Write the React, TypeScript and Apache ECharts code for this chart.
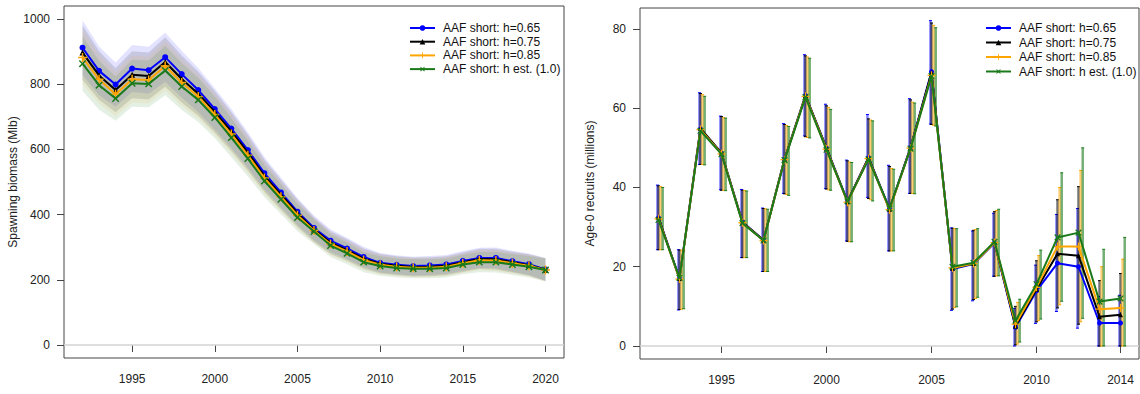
import React, { useEffect, useRef } from "react";
import * as echarts from "echarts";

// ---------- Left panel: spawning biomass (Mlb) ----------
const sbYears = [1992,1993,1994,1995,1996,1997,1998,1999,2000,2001,2002,2003,2004,2005,2006,2007,2008,2009,2010,2011,2012,2013,2014,2015,2016,2017,2018,2019,2020];
const sbH065 = [912,841,799,848,843,883,831,782,724,664,598,527,468,409,359,320,296,270,252,246,242,244,247,258,267,267,257,248,232];
const sbH075 = [897,827,782,829,825,868,816,771,715,655,590,519,461,404,354,314,291,265,249,243,239,240,243,254,264,263,254,245,231];
const sbH085 = [882,815,769,815,813,856,805,762,707,647,582,512,455,398,351,310,287,261,246,240,237,237,240,251,260,259,251,243,230];
const sbHest = [863,797,756,803,801,842,793,752,698,636,572,503,447,391,348,305,281,254,242,236,234,234,236,247,254,254,247,240,230];
// half-width of the shaded interval (Mlb)
const sbHalfWidth = [84,75,68,72,72,76,72,68,64,60,55,50,46,42,38,35,33,31,30,29,29,29,29,30,31,32,32,33,35];

// ---------- Right panel: age-0 recruits (millions) ----------
const recYears = [1992,1993,1994,1995,1996,1997,1998,1999,2000,2001,2002,2003,2004,2005,2006,2007,2008,2009,2010,2011,2012,2013,2014];
const recH065 = [32.4,17.0,54.8,48.6,31.3,26.7,47.1,63.2,49.9,36.5,47.6,34.6,50.1,69.2,19.4,20.7,26.0,4.7,13.9,20.9,20.0,5.8,5.8];
const recH075 = [32.4,17.0,54.9,48.7,31.2,26.7,47.1,63.2,49.9,36.4,47.5,34.5,50.0,69.0,19.6,20.8,26.1,5.0,14.3,23.3,22.8,7.4,7.9];
const recH085 = [32.1,16.9,54.6,48.5,31.1,26.6,47.0,63.0,49.7,36.3,47.3,34.4,49.9,68.3,19.7,20.8,26.1,5.5,14.8,25.1,25.1,9.3,9.6];
const recHest = [31.8,17.2,54.3,48.4,31.0,26.6,46.9,62.8,49.5,36.5,47.1,34.7,49.8,68.1,20.0,21.0,26.3,6.4,15.6,27.4,28.6,11.2,12.0];
const recH065Hi = [40.6,24.3,63.9,58.0,39.5,34.8,56.1,73.5,61.0,46.9,58.4,45.6,62.4,82.1,29.8,29.0,33.5,9.5,20.4,33.2,34.7,12.5,12.8];
const recH065Lo = [24.3,9.1,45.8,39.4,22.3,18.8,38.5,53.0,39.7,26.5,37.5,24.0,38.5,56.0,9.0,11.4,17.6,0.0,5.7,8.7,4.5,0.0,0.0];
const recH075Hi = [40.4,24.2,63.7,57.9,39.3,34.7,55.9,73.2,60.6,46.7,57.3,45.3,62.1,81.5,29.7,29.2,33.9,10.0,21.5,36.9,40.2,16.5,18.3];
const recH075Lo = [24.3,9.2,45.8,39.3,22.3,18.8,38.4,52.8,39.6,26.4,37.2,24.0,38.5,55.9,9.3,11.7,17.6,0.3,6.1,9.6,5.5,0.0,0.0];
const recH085Hi = [40.2,24.2,63.4,57.6,39.2,34.6,55.6,72.9,60.2,46.4,57.0,44.8,61.5,80.9,29.6,29.4,34.2,11.0,22.8,40.0,44.3,20.0,21.9];
const recH085Lo = [24.3,9.3,45.8,39.3,22.3,18.8,38.2,52.6,39.4,26.3,36.9,24.0,38.5,55.7,9.7,12.0,17.7,0.5,6.4,10.4,6.1,0.0,0.0];
const recHestHi = [40.0,24.0,63.0,57.5,39.1,34.5,55.4,72.6,59.7,46.3,56.8,44.6,61.3,80.3,29.6,29.6,34.5,11.8,24.2,43.7,50.0,24.4,27.4];
const recHestLo = [24.3,9.4,45.7,39.2,22.3,18.8,38.0,52.5,39.3,26.3,36.6,24.0,38.4,55.5,9.9,12.3,17.7,1.0,6.8,11.3,7.0,0.0,0.0];

const seriesNames = ["AAF short: h=0.65", "AAF short: h=0.75", "AAF short: h=0.85", "AAF short: h est. (1.0)"];
const sbTicks = [0, 200, 400, 600, 800, 1000];
const sbYearTicks = [1995, 2000, 2005, 2010, 2015, 2020];
const recTicks = [0, 20, 40, 60, 80];
const recYearTicks = [1995, 2000, 2005, 2010, 2014];

const COLORS = ["#0000ff", "#000000", "#ffa500", "#1a7a1a"];
const BAND_COLORS = ["rgba(0,0,255,0.11)", "rgba(0,0,0,0.12)", "rgba(255,165,0,0.09)", "rgba(0,110,0,0.10)"];
const BAR_COLORS = ["rgba(0,0,255,0.5)", "rgba(0,0,0,0.55)", "rgba(255,165,0,0.55)", "rgba(0,110,0,0.55)"];
const PLUS = "path://M4.2,0H5.8V4.2H10V5.8H5.8V10H4.2V5.8H0V4.2H4.2Z";
const SYMBOLS = ["circle", "triangle", PLUS, PLUS];
const SYMBOL_ROT = [0, 0, 0, 45];
const SYMBOL_SIZE = [6, 6, 9, 9];
const REC_OFFSETS = [-0.05, 0, 0.1, 0.2];

const FONT = "'Liberation Sans', Arial, sans-serif";

export default function App() {
  const ref = useRef<HTMLDivElement>(null);
  useEffect(() => {
    if (!ref.current) return;
    const chart = echarts.init(ref.current, null, { renderer: "svg" });
    const sbSeries = [sbH065, sbH075, sbH085, sbHest];
    const recSeries = [recH065, recH075, recH085, recHest];
    const recHi = [recH065Hi, recH075Hi, recH085Hi, recHestHi];
    const recLo = [recH065Lo, recH075Lo, recH085Lo, recHestLo];

    const zeroLine = {
      silent: true,
      symbol: ["none", "none"],
      label: { show: false },
      lineStyle: { color: "#d3d3d3", width: 1.5, type: "solid" },
      data: [{ yAxis: 0 }],
    };

    const series: any[] = [];
    // line series first (legend picks style from them)
    sbSeries.forEach((vals, i) => {
      series.push({
        type: "line",
        name: seriesNames[i],
        xAxisIndex: 0,
        yAxisIndex: 0,
        data: sbYears.map((y, k) => [y, vals[k]]),
        color: COLORS[i],
        lineStyle: { width: 2, color: COLORS[i] },
        symbol: SYMBOLS[i],
        symbolRotate: SYMBOL_ROT[i],
        symbolSize: SYMBOL_SIZE[i],
        itemStyle: { color: COLORS[i] },
        z: 10 + i,
        markLine: i === 0 ? zeroLine : undefined,
      });
    });
    recSeries.forEach((vals, i) => {
      series.push({
        type: "line",
        name: seriesNames[i],
        xAxisIndex: 1,
        yAxisIndex: 1,
        data: recYears.map((y, k) => [y, vals[k]]),
        color: COLORS[i],
        lineStyle: { width: 2, color: COLORS[i] },
        symbol: SYMBOLS[i],
        symbolRotate: SYMBOL_ROT[i],
        symbolSize: SYMBOL_SIZE[i] - 1,
        itemStyle: { color: COLORS[i] },
        z: 10 + i,
        markLine: i === 0 ? zeroLine : undefined,
      });
    });
    // shaded intervals, left panel (one polygon per series)
    sbSeries.forEach((vals, i) => {
      const rows = sbYears.map((y, k) => [y, vals[k] - sbHalfWidth[k], vals[k] + sbHalfWidth[k]]);
      series.push({
        type: "custom",
        name: "band" + i,
        xAxisIndex: 0,
        yAxisIndex: 0,
        z: 2,
        silent: true,
        clip: true,
        encode: { x: 0, y: [1, 2] },
        data: rows,
        renderItem: (p: any, api: any) => {
          if (p.dataIndex !== 0) return null;
          const upper = rows.map((r) => api.coord([r[0], r[2]]));
          const lower = rows.map((r) => api.coord([r[0], r[1]])).reverse();
          return {
            type: "polygon",
            shape: { points: upper.concat(lower) },
            style: { fill: BAND_COLORS[i], stroke: "none" },
          };
        },
      });
    });
    // error bars, right panel
    recSeries.forEach((_vals, i) => {
      series.push({
        type: "custom",
        name: "err" + i,
        xAxisIndex: 1,
        yAxisIndex: 1,
        z: 5,
        silent: true,
        encode: { x: 0, y: [1, 2] },
        data: recYears.map((y, k) => [y + REC_OFFSETS[i], recLo[i][k], recHi[i][k]]),
        renderItem: (_p: any, api: any) => {
          const x = api.value(0);
          const lo = api.coord([x, api.value(1)]);
          const hi = api.coord([x, api.value(2)]);
          const c = BAR_COLORS[i];
          return {
            type: "group",
            children: [
              { type: "line", shape: { x1: lo[0], y1: lo[1], x2: hi[0], y2: hi[1] }, style: { stroke: c, lineWidth: 2.5 } },
              { type: "line", shape: { x1: lo[0] - 1.5, y1: lo[1], x2: lo[0] + 1.5, y2: lo[1] }, style: { stroke: COLORS[i], lineWidth: 1 } },
              { type: "line", shape: { x1: hi[0] - 1.5, y1: hi[1], x2: hi[0] + 1.5, y2: hi[1] }, style: { stroke: COLORS[i], lineWidth: 1 } },
            ],
          };
        },
      });
    });

    const axisLabel = { color: "#222", fontSize: 12, fontFamily: FONT, formatter: (v: number) => String(v) };
    const axisTick = { show: true, length: 7, lineStyle: { color: "#444", width: 1 } };
    const legendBase = {
      orient: "vertical", itemWidth: 25, itemHeight: 7,
      data: seriesNames, selectedMode: false,
      textStyle: { color: "#111", fontSize: 12, fontFamily: FONT, padding: [0, 0, 0, 3] },
    };

    const option: any = {
      animation: false,
      textStyle: { fontFamily: FONT },
      grid: [
        { left: 64, top: 6, width: 500, height: 352, show: true, borderColor: "#444", borderWidth: 1, backgroundColor: "transparent" },
        { left: 640, top: 8, width: 499, height: 351, show: true, borderColor: "#444", borderWidth: 1, backgroundColor: "transparent" },
      ],
      xAxis: [
        {
          type: "value", gridIndex: 0, min: 1990.88, max: 2021.12,
          axisLine: { show: false }, splitLine: { show: false },
          axisTick: { ...axisTick, customValues: sbYearTicks },
          axisLabel: { ...axisLabel, margin: 15, customValues: sbYearTicks },
        },
        {
          type: "value", gridIndex: 1, min: 1991.12, max: 2014.88,
          axisLine: { show: false }, splitLine: { show: false },
          axisTick: { ...axisTick, customValues: recYearTicks },
          axisLabel: { ...axisLabel, margin: 15, customValues: recYearTicks },
        },
      ],
      yAxis: [
        {
          type: "value", gridIndex: 0, min: -40, max: 1040,
          name: "Spawning biomass (Mlb)", nameLocation: "middle", nameGap: 44,
          nameTextStyle: { color: "#222", fontSize: 12, fontFamily: FONT },
          axisLine: { show: false }, splitLine: { show: false },
          axisTick: { ...axisTick, customValues: sbTicks },
          axisLabel: { ...axisLabel, margin: 14, customValues: sbTicks },
        },
        {
          type: "value", gridIndex: 1, min: -3.28, max: 85.28,
          name: "Age-0 recruits (millions)", nameLocation: "middle", nameGap: 44,
          nameTextStyle: { color: "#222", fontSize: 12, fontFamily: FONT },
          axisLine: { show: false }, splitLine: { show: false },
          axisTick: { ...axisTick, customValues: recTicks },
          axisLabel: { ...axisLabel, margin: 14, customValues: recTicks },
        },
      ],
      legend: [
        { ...legendBase, left: 404, top: 17, itemGap: 1.7 },
        { ...legendBase, left: 980, top: 17, itemGap: 2.5 },
      ],
      series,
    };
    chart.setOption(option);
    return () => chart.dispose();
  }, []);
  return <div ref={ref} style={{ position: "fixed", left: 0, top: 0, width: 1140, height: 394, background: "#fff" }} />;
}
